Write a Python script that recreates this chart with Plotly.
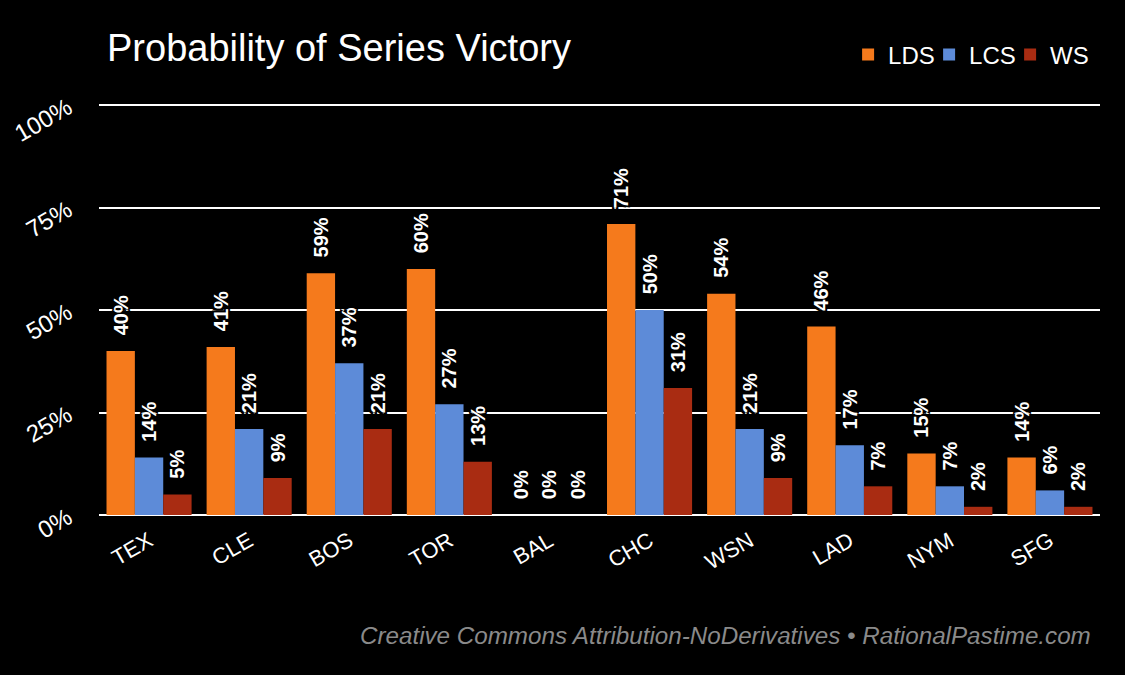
import plotly.graph_objects as go

teams = ["TEX", "CLE", "BOS", "TOR", "BAL", "CHC", "WSN", "LAD", "NYM", "SFG"]
lds = [40, 41, 59, 60, 0, 71, 54, 46, 15, 14]
lcs = [14, 21, 37, 27, 0, 50, 21, 17, 7, 6]
ws = [5, 9, 21, 13, 0, 31, 9, 7, 2, 2]
y_ticks = [0, 25, 50, 75, 100]

series = [("LDS", lds, "#F57A1C"), ("LCS", lcs, "#5D8BD8"), ("WS", ws, "#A92C12")]

FONT = "Liberation Sans, Arial, Helvetica, sans-serif"
HALO = "-2px -2px 0 #000, 2px -2px 0 #000, -2px 2px 0 #000, 2px 2px 0 #000, 0 0 3px #000"
PAD = "\u00a0\u00a0\u200a"  # lifts the rotated labels off the bar tops

fig = go.Figure()
for name, vals, color in series:
    fig.add_trace(go.Bar(
        name=name, x=teams, y=[v / 100 for v in vals],
        marker=dict(color=color, line=dict(width=0)),
        text=[f"{PAD}{v}%" for v in vals], textposition="outside", textangle=-90,
        constraintext="none",
        textfont=dict(family=FONT, size=20, color="white", weight="bold", shadow=HALO),
        cliponaxis=False,
    ))

fig.update_layout(
    width=1125, height=675,
    paper_bgcolor="black", plot_bgcolor="black",
    barmode="group", bargap=0.15, bargroupgap=0,
    margin=dict(l=99, r=25, t=101, b=160),
    font=dict(family=FONT, color="white"),
    title=dict(text="Probability of Series Victory", x=107 / 1125, xref="container", xanchor="left",
               y=1 - 48 / 675, yref="container", yanchor="middle",
               font=dict(size=38, color="white")),
    legend=dict(orientation="h", x=1 - 10 / 1125, xanchor="right", y=1 - 55 / 675, yref="container",
                yanchor="middle", font=dict(size=24, color="white"), bgcolor="rgba(0,0,0,0)",
                itemwidth=30, entrywidth=36, traceorder="normal"),
    annotations=[dict(
        text="Creative Commons Attribution-NoDerivatives • RationalPastime.com",
        xref="paper", yref="paper", x=1 - 7 / 1000, y=-0.29, xanchor="right", yanchor="middle",
        showarrow=False, font=dict(size=24.2, color="#8a8a8a", style="italic"),
    )],
)
fig.update_yaxes(
    range=[0, 1.01], tickvals=[t / 100 for t in y_ticks], ticktext=[f"{t}%" for t in y_ticks],
    tickangle=-30, tickfont=dict(size=24, color="white"),
    showgrid=True, gridcolor="white", gridwidth=2,
    zeroline=True, zerolinecolor="white", zerolinewidth=2,
    ticks="", ticklabelstandoff=30, automargin=False,
)
fig.update_xaxes(
    tickangle=-30, tickfont=dict(size=22, color="white"), showgrid=False, ticks="",
    ticklabelstandoff=8, automargin=False,
)

fig.write_html("out.html", config={"displayModeBar": False},
               post_script="document.body.style.margin='0';document.body.style.background='black';")
